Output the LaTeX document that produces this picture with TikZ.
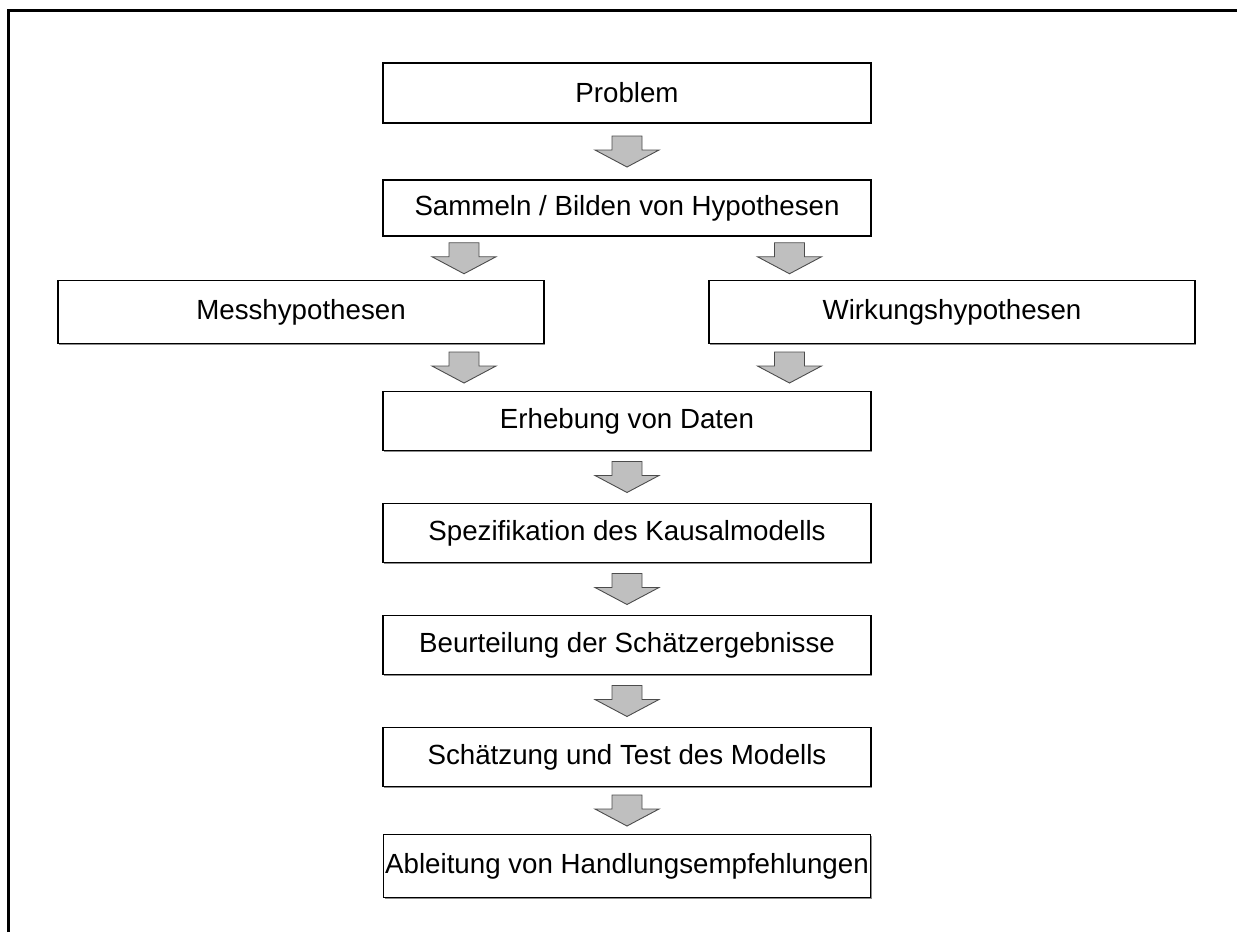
\documentclass[tikz,border=0pt]{standalone}
\usepackage{fontspec}
\setmainfont{Liberation Sans}
\usetikzlibrary{calc,shadows}
\begin{document}
\begin{tikzpicture}[x=1pt,y=-1pt,
  stepbox/.style={draw=black, line width=1.3pt, fill=white, inner sep=0pt,
    minimum width=488pt, minimum height=59pt,
    drop shadow={shadow xshift=1.2pt, shadow yshift=-1.2pt, fill=black!45, opacity=1},
    font=\fontsize{27.7}{32}\selectfont},
  widebox/.style={stepbox, minimum width=486pt, minimum height=63pt},
  arrowfill/.style={fill=gray!50, draw=black!70, line width=0.9pt, line join=miter},
  blockarrow/.pic={
    \path[arrowfill] (-15,-15.5) -- (15,-15.5) -- (15,-1.5) -- (32,-1.5)
      -- (0,15.5) -- (-32,-1.5) -- (-15,-1.5) -- cycle;
  }]
\useasboundingbox (0,0) rectangle (1237,932);

% frame edges
\draw[line width=2.6pt] (8.5,932) -- (8.5,10.5) -- (1237,10.5);

% steps
\node[stepbox, minimum height=60pt] (problem) at (627,93) {Problem};
\node[stepbox, minimum height=56pt] (sammeln) at (627,208) {Sammeln / Bilden von Hypothesen};
\node[widebox] (mess) at (301,312) {Messhypothesen};
\node[widebox] (wirk) at (952,312) {Wirkungshypothesen};
\node[stepbox] (erhebung) at (627,421) {Erhebung von Daten};
\node[stepbox] (spez) at (627,533) {Spezifikation des Kausalmodells};
\node[stepbox] (beurt) at (627,645) {Beurteilung der Schätzergebnisse};
\node[stepbox] (schaetz) at (627,757) {Schätzung und Test des Modells};
\node[stepbox, minimum width=487pt, minimum height=63pt] (ableit) at (627,866) {Ableitung von Handlungsempfehlungen};

% block arrows between steps
\pic at ($(problem.south)!0.5!(sammeln.north)$) {blockarrow};
\pic at ($(sammeln.south)!0.5!(mess.north)$) {blockarrow};
\pic at ($(sammeln.south)!0.5!(wirk.north)$) {blockarrow};
\pic at ($(mess.south)!0.5!(erhebung.north)$) {blockarrow};
\pic at ($(wirk.south)!0.5!(erhebung.north)$) {blockarrow};
\pic at ($(erhebung.south)!0.5!(spez.north)$) {blockarrow};
\pic at ($(spez.south)!0.5!(beurt.north)$) {blockarrow};
\pic at ($(beurt.south)!0.5!(schaetz.north)$) {blockarrow};
\pic at ($(schaetz.south)!0.5!(ableit.north)$) {blockarrow};
\end{tikzpicture}
\end{document}
